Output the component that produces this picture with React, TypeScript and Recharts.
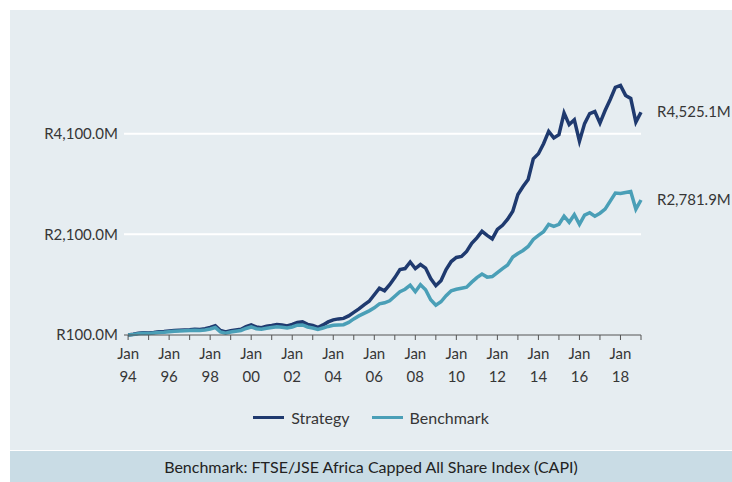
import { LineChart, Line, XAxis, YAxis, CartesianGrid, Legend, LabelList } from 'recharts';

// Quarterly values (R million), Jan 1994 to Jan 2019
const START_YEAR = 1994;

const strategy = [
  100, 115, 135, 145, 140, 150, 165, 170, 180, 190, 195, 200,
  205, 215, 210, 225, 250, 285, 190, 160, 185, 200, 215, 265,
  300, 260, 245, 275, 290, 310, 300, 280, 310, 350, 360, 310,
  290, 250, 300, 360, 400, 420, 430, 480, 550, 620, 700, 770,
  900, 1030, 980, 1100, 1240, 1400, 1420, 1550, 1420, 1500, 1430, 1220,
  1080, 1180, 1400, 1560, 1640, 1660, 1760, 1920, 2030, 2160, 2080, 2010,
  2200, 2280, 2400, 2560, 2890, 3050, 3190, 3600, 3700, 3900, 4145, 4015,
  4080, 4510, 4280, 4375, 3950, 4300, 4500, 4540, 4310, 4560, 4780, 5020,
  5060, 4860, 4800, 4330, 4525.1,
];

const benchmark = [
  100, 110, 125, 135, 130, 140, 150, 155, 165, 175, 180, 185,
  190, 195, 190, 200, 220, 250, 160, 135, 160, 175, 190, 230,
  260, 225, 215, 235, 250, 265, 255, 240, 260, 295, 300, 260,
  240, 210, 240, 270, 295, 300, 305, 350, 420, 480, 530, 580,
  640, 720, 740, 780, 870, 960, 1010, 1090, 960, 1100, 1000, 800,
  690, 760, 880, 980, 1010, 1030, 1050, 1150, 1240, 1310, 1250, 1260,
  1340, 1420, 1490, 1650, 1720, 1780, 1860, 2000, 2080, 2150, 2300, 2260,
  2300, 2460, 2340, 2490, 2300, 2480, 2530, 2460, 2520, 2600, 2760, 2920,
  2910, 2930, 2950, 2600, 2781.9,
];

const xTicks = [
  1994, 1995, 1996, 1997, 1998, 1999, 2000, 2001, 2002, 2003, 2004, 2005, 2006,
  2007, 2008, 2009, 2010, 2011, 2012, 2013, 2014, 2015, 2016, 2017, 2018, 2019,
];
const yTicks = [100, 2100, 4100];
const gridValues = [2100, 4100];

const STRATEGY_COLOR = '#1f3a6f';
const BENCHMARK_COLOR = '#4a9fb7';
const TEXT = '#363636';
const FONT = 'Lato, "Open Sans", sans-serif';

const data = strategy.map((v, i) => ({
  t: START_YEAR + i * 0.25,
  strategy: v,
  benchmark: benchmark[i],
}));

const lastIndex = data.length - 1;

const fmtMoney = (v: number) =>
  'R' + v.toLocaleString('en-US', { minimumFractionDigits: 1, maximumFractionDigits: 1 }) + 'M';

const XTick = ({ x, y, payload }: any) => {
  const yr = payload.value;
  if (yr % 2 !== 0 || yr > 2018) return <g />;
  return (
    <text x={x} y={y} textAnchor="middle" fill={TEXT} fontSize={15} fontFamily={FONT}>
      <tspan x={x} dy={17}>Jan</tspan>
      <tspan x={x} dy={23}>{String(yr).slice(2)}</tspan>
    </text>
  );
};

const EndLabel = (props: any) => {
  const { x, y, value, index } = props;
  if (index !== lastIndex) return null;
  return (
    <text x={x + 16} y={y} dy={5} fill={TEXT} fontSize={15} fontFamily={FONT}>
      {fmtMoney(value)}
    </text>
  );
};

const LegendContent = () => (
  <div style={{ display: 'flex', justifyContent: 'center', alignItems: 'center', fontFamily: FONT, fontSize: 16, color: TEXT }}>
    {[
      { name: 'Strategy', color: STRATEGY_COLOR },
      { name: 'Benchmark', color: BENCHMARK_COLOR },
    ].map((item, i) => (
      <div key={item.name} style={{ display: 'flex', alignItems: 'center', marginLeft: i ? 22 : 0 }}>
        <span style={{ display: 'inline-block', width: 31, height: 3, background: item.color, marginRight: 7 }} />
        <span>{item.name}</span>
      </div>
    ))}
  </div>
);

export default function App() {
  return (
    <div style={{ position: 'absolute', left: 0, top: 0, width: 732, height: 482, background: '#fff' }}>
      <div style={{ position: 'absolute', left: 10, top: 10, width: 722, height: 440, background: '#e6edf1' }}>
        <LineChart width={722} height={440} data={data} margin={{ top: 23, right: 91, left: 0, bottom: 23 }}>
          <CartesianGrid horizontal vertical={false} horizontalValues={gridValues} stroke="#ffffff" strokeWidth={2} />
          <XAxis
            dataKey="t"
            type="number"
            domain={[1993.8, 2019]}
            ticks={xTicks}
            interval={0}
            height={73}
            tick={<XTick />}
            tickSize={5}
            tickMargin={2}
            stroke="#555"
            tickLine={{ stroke: '#555' }}
          />
          <YAxis
            type="number"
            domain={[100, 6100]}
            ticks={yTicks}
            width={114}
            axisLine={false}
            tickLine={false}
            tickSize={4}
            tickMargin={2}
            tickFormatter={fmtMoney}
            tick={{ fill: TEXT, fontSize: 15, fontFamily: FONT }}
          />
          <Legend verticalAlign="bottom" wrapperStyle={{ left: 0, width: 722 }} content={<LegendContent />} />
          <Line
            type="linear"
            dataKey="strategy"
            name="Strategy"
            stroke={STRATEGY_COLOR}
            strokeWidth={3.5}
            dot={false}
            isAnimationActive={false}
          >
            <LabelList dataKey="strategy" content={<EndLabel />} />
          </Line>
          <Line
            type="linear"
            dataKey="benchmark"
            name="Benchmark"
            stroke={BENCHMARK_COLOR}
            strokeWidth={3.5}
            dot={false}
            isAnimationActive={false}
          >
            <LabelList dataKey="benchmark" content={<EndLabel />} />
          </Line>
        </LineChart>
      </div>
      <div
        style={{
          position: 'absolute', left: 10, top: 451, width: 722, height: 31, background: '#c9dce5',
          display: 'flex', alignItems: 'center', justifyContent: 'center',
          fontFamily: FONT, fontSize: 16, color: '#222',
        }}
      >
        Benchmark: FTSE/JSE Africa Capped All Share Index (CAPI)
      </div>
    </div>
  );
}
